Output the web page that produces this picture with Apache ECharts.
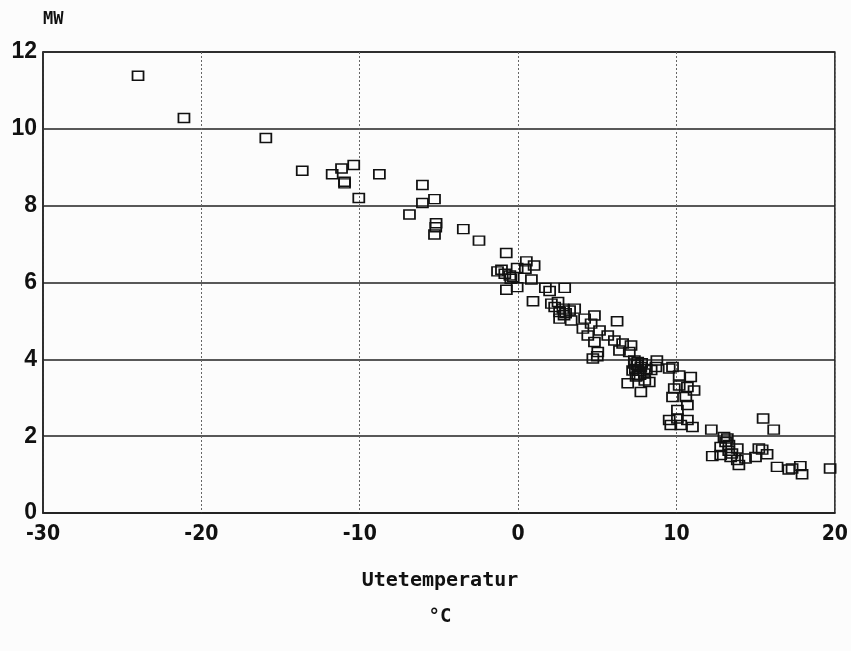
<!DOCTYPE html>
<html>
<head>
<meta charset="utf-8">
<script src="https://cdn.jsdelivr.net/npm/echarts@6/dist/echarts.min.js"></script>
<style>
html,body{margin:0;padding:0;background:#fcfcfc;}
#chart{width:851px;height:651px;}
</style>
</head>
<body>
<div id="chart"></div>
<script>
const xTicks = [-30, -20, -10, 0, 10, 20];
const yTicks = [0, 2, 4, 6, 8, 10, 12];
const xAxisTitle = "Utetemperatur";
const xAxisUnit = "°C";
const yAxisUnit = "MW";

const temperature = [
  -24.0, -21.1, -15.93, -13.63, -11.74, -11.15, -10.38, -10.96, -10.96, -10.06,
  -8.76, -6.04, -6.04, -5.28, -6.86, -5.18, -5.2, -5.28, -3.46, -2.47, -0.75,
  -1.30, -1.05, -0.84, -0.52, -0.31, -0.06, 0.52, 0.46, 1.01, 0.84, -0.74, -0.06,
  -0.46, 0.94, 1.72, 1.99, 2.94,
  2.10, 2.52, 2.31, 2.62, 2.83, 2.62, 3.25, 3.57, 3.35, 4.20, 4.82, 4.09, 4.61,
  4.40, 5.14, 4.82, 5.03, 4.72, 6.25, 5.66, 6.08, 6.60, 6.40, 7.13, 7.02, 7.34,
  5.0, 2.9, 3.0,
  7.34, 7.55, 7.23, 7.75, 7.55, 7.97, 8.76, 8.70, 8.28, 6.92, 7.75, 9.54, 9.75,
  10.17, 10.90, 9.86, 10.17, 10.69, 11.11, 9.75, 10.59, 10.69, 10.06, 9.54, 10.06,
  10.69, 9.64, 10.27, 11.01,
  7.4, 7.6, 7.8, 7.5, 7.7, 8.1, 8.4, 7.45, 8.0,
  12.20, 13.0, 13.21, 12.79, 13.31, 13.84, 12.26, 12.79, 13.42, 13.84, 13.94,
  14.36, 14.99, 15.20, 15.41, 15.72, 16.35, 17.09, 17.30, 17.82, 17.93, 19.70,
  15.47, 16.14, 13.1, 13.5, 13.3
];
const power = [
  11.38, 10.28, 9.76, 8.91, 8.82, 8.97, 9.06, 8.58, 8.62, 8.20,
  8.82, 8.54, 8.07, 8.17, 7.77, 7.54, 7.44, 7.25, 7.39, 7.09, 6.77,
  6.29, 6.33, 6.23, 6.18, 6.14, 6.38, 6.55, 6.36, 6.44, 6.08, 5.81, 5.88,
  6.10, 5.51, 5.86, 5.78, 5.86,
  5.45, 5.49, 5.36, 5.23, 5.32, 5.06, 5.27, 5.32, 5.01, 5.06, 5.14, 4.80, 4.93,
  4.62, 4.75, 4.45, 4.19, 4.02, 4.99, 4.62, 4.49, 4.41, 4.23, 4.36, 4.19, 3.97,
  4.08, 5.15, 5.20,
  3.89, 3.93, 3.71, 3.80, 3.58, 3.63, 3.97, 3.80, 3.41, 3.38, 3.15, 3.76, 3.80,
  3.58, 3.54, 3.24, 3.32, 3.28, 3.19, 3.02, 3.02, 2.81, 2.68, 2.42, 2.46,
  2.42, 2.29, 2.29, 2.24,
  3.75, 3.70, 3.90, 3.85, 3.60, 3.75, 3.72, 3.55, 3.45,
  2.17, 1.98, 1.94, 1.72, 1.77, 1.68, 1.48, 1.51, 1.46, 1.38, 1.25,
  1.42, 1.46, 1.68, 1.65, 1.53, 1.20, 1.13, 1.16, 1.22, 1.01, 1.16,
  2.46, 2.17, 1.85, 1.55, 1.62
];

const points = temperature.map((t, i) => [t, power[i]]);
const condFont = '"DejaVu Sans Condensed", "DejaVu Sans", sans-serif';

const chart = echarts.init(document.getElementById('chart'), null, {renderer: 'canvas'});
chart.setOption({
  backgroundColor: '#fcfcfc',
  animation: false,
  grid: {
    left: 43, right: 13, top: 52, bottom: 138,
    show: true, borderColor: '#222', borderWidth: 1.5, backgroundColor: 'transparent'
  },
  xAxis: {
    type: 'value', min: xTicks[0], max: xTicks[xTicks.length - 1], interval: 10,
    axisLine: {show: true, onZero: false, lineStyle: {color: '#222', width: 1.5}},
    axisTick: {show: false},
    axisLabel: {color: '#111', fontSize: 21, fontWeight: 'bold', fontFamily: condFont, margin: 11},
    splitLine: {show: true, lineStyle: {color: '#666', width: 1, type: [2, 2]}}
  },
  yAxis: {
    type: 'value', min: yTicks[0], max: yTicks[yTicks.length - 1], interval: 2,
    axisLine: {show: true, onZero: false, lineStyle: {color: '#222', width: 1.5}},
    axisTick: {show: false},
    axisLabel: {color: '#111', fontSize: 23, fontWeight: 'bold', fontFamily: '"Liberation Sans", Arial, sans-serif', margin: 6},
    splitLine: {show: true, lineStyle: {color: '#222', width: 1.5}}
  },
  graphic: [
    {type: 'text', x: 43, y: 20, style: {text: yAxisUnit, fill: '#111', align: 'left', verticalAlign: 'middle', font: 'bold 17px "DejaVu Sans Mono", monospace'}},
    {type: 'text', x: 440, y: 581, style: {text: xAxisTitle, fill: '#111', align: 'center', verticalAlign: 'middle', font: 'bold 20px "DejaVu Sans Mono", monospace'}},
    {type: 'text', x: 440, y: 617, style: {text: xAxisUnit, fill: '#111', align: 'center', verticalAlign: 'middle', font: 'bold 19px "DejaVu Sans Mono", monospace'}}
  ],
  series: [{
    type: 'scatter',
    data: points,
    symbol: 'rect',
    symbolSize: [11, 9],
    itemStyle: {color: 'rgba(0,0,0,0)', borderColor: '#111', borderWidth: 1.6, opacity: 1}
  }]
});
</script>
</body>
</html>
